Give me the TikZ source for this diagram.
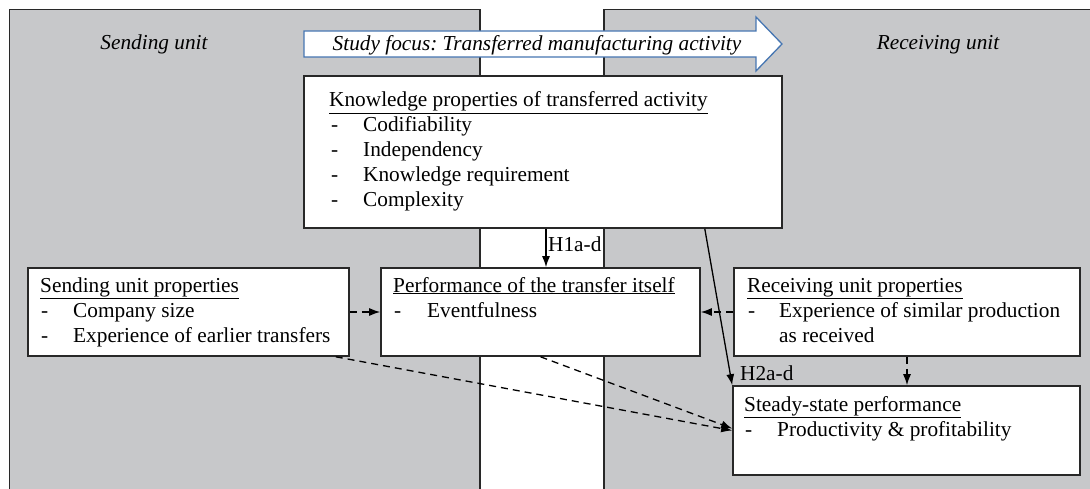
\documentclass[tikz,border=0pt]{standalone}
\usepackage{fontspec}
\setmainfont{Liberation Serif}
\frenchspacing
\usetikzlibrary{arrows.meta}
\definecolor{unitgray}{RGB}{199,200,202}
\definecolor{edgegray}{RGB}{40,40,40}
\definecolor{focusblue}{RGB}{70,118,178}
\tikzset{
  unitbox/.style={fill=unitgray, draw=edgegray, line width=1.4pt},
  propbox/.style={draw=edgegray, fill=white, line width=1.6pt, rectangle, inner sep=0pt},
  txt/.style={anchor=base west, inner sep=0pt, font=\fontsize{21.3}{25}\selectfont},
  ttl/.style={anchor=base, inner sep=0pt, font=\fontsize{21.3}{25}\selectfont\itshape},
  solidarr/.style={draw=black, line width=1.3pt, -{Latex[length=11pt,width=8pt]}},
  dasharr/.style={draw=black, line width=1.3pt, dash pattern=on 7pt off 5pt, -{Latex[length=11pt,width=8pt]}}
}
\begin{document}
\begin{tikzpicture}[x=1pt,y=-1pt]
\clip (0,0) rectangle (1090,489);
\fill[white] (0,0) rectangle (1090,489);
% unit areas
\path[unitbox] (9.4,9.4) rectangle (480,520);
\path[unitbox] (604,9.4) rectangle (1120,520);
\node[ttl] (sendtitle) at (154,50) {Sending unit};
\node[ttl] (rectitle) at (938,50) {Receiving unit};
% study focus arrow
\draw[focusblue, fill=white, line width=1.3pt] (304,31) -- (756,31) -- (756,17) -- (782,44) -- (756,71) -- (756,57) -- (304,57) -- cycle;
\node[ttl] (focus) at (537,51) {Study focus: Transferred manufacturing activity};
% boxes
\node[propbox, minimum width=478pt, minimum height=152pt] (know) at (543,152) {};
\node[propbox, minimum width=321pt, minimum height=88pt] (send) at (188.5,312) {};
\node[propbox, minimum width=319pt, minimum height=88pt] (perf) at (540.5,312) {};
\node[propbox, minimum width=346pt, minimum height=88pt] (rec) at (907,312) {};
\node[propbox, minimum width=347pt, minimum height=89pt] (steady) at (906.5,430.5) {};
% knowledge box text
\node[txt] (k0) at (329,107) {\underline{Knowledge properties of transferred activity}};
\node[txt] (k1d) at (331,132) {-};
\node[txt] (k1) at (363,132) {Codifiability};
\node[txt] (k2d) at (331,157) {-};
\node[txt] (k2) at (363,157) {Independency};
\node[txt] (k3d) at (331,182) {-};
\node[txt] (k3) at (363,182) {Knowledge requirement};
\node[txt] (k4d) at (331,207) {-};
\node[txt] (k4) at (363,207) {Complexity};
% sending box text
\node[txt] (s0) at (40,292) {\underline{Sending unit properties}};
\node[txt] (s1d) at (41,317) {-};
\node[txt] (s1) at (73,317) {Company size};
\node[txt] (s2d) at (41,342) {-};
\node[txt] (s2) at (73,342) {Experience of earlier transfers};
% performance box text
\node[txt] (p0) at (393,292) {\underline{Performance of the transfer itself}};
\node[txt] (p1d) at (394,317) {-};
\node[txt] (p1) at (427,317) {Eventfulness};
% receiving box text
\node[txt] (r0) at (747,292) {\underline{Receiving unit properties}};
\node[txt] (r1d) at (748,317) {-};
\node[txt] (r1) at (779,317) {Experience of similar production};
\node[txt] (r2) at (779,342) {as received};
% steady box text
\node[txt] (t0) at (744,411) {\underline{Steady-state performance}};
\node[txt] (t1d) at (745,436) {-};
\node[txt] (t1) at (777,436) {Productivity \& profitability};
% connectors
\draw[solidarr] ([xshift=5.5pt]perf.north |- know.south) -- ([xshift=5.5pt]perf.north);
\node[txt] (h1) at (548,252) {H1a-d};
\draw[solidarr] ([xshift=-78pt]know.south east) -- (steady.north west);
\node[txt] (h2) at (740,380) {H2a-d};
\draw[dasharr] (send.east) -- (perf.west);
\draw[dasharr] (rec.west) -- (perf.east);
\draw[dasharr] (rec.south) -- (rec.south |- steady.north);
\draw[dasharr] ([xshift=-14pt]send.south east) -- (steady.west);
\draw[dasharr] (perf.south) -- ([yshift=2pt]steady.west);
\end{tikzpicture}
\end{document}
